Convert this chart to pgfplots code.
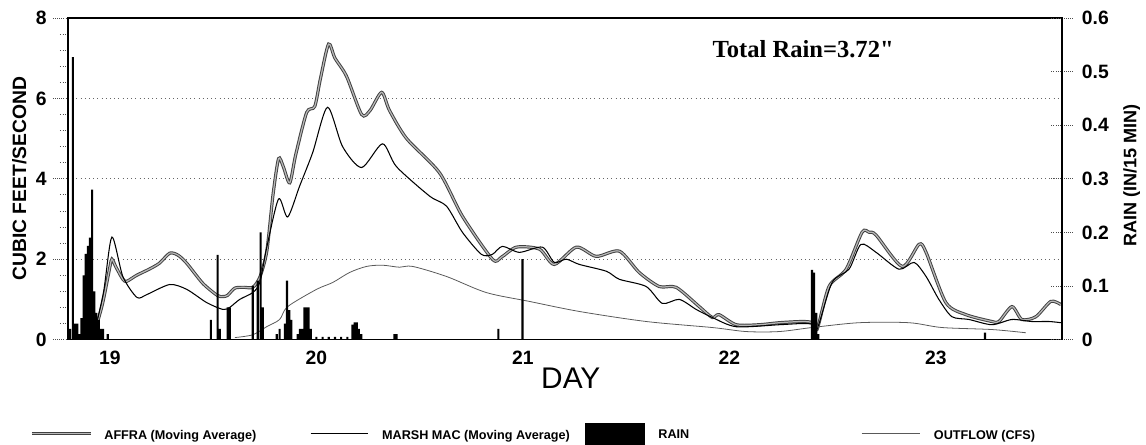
\documentclass[border=0pt]{standalone}
\usepackage{fontspec}
\setmainfont{Liberation Sans}
\newfontfamily\serifb{Liberation Serif}
\usepackage{pgfplots}
\pgfplotsset{compat=1.18}

\tikzset{
  dotticks/.style={black!70, densely dotted, line width=0.5pt},
}
\pgfplotsset{
  affra/.style={black!75, line width=1.8pt, smooth, tension=0.45,
    postaction={draw=gray!55, line width=0.7pt}},
  lineleg/.style={legend image code/.code={\draw[##1] (0cm,0cm) -- (#1,0cm);}},
}

\begin{document}
\begin{tikzpicture}
\begin{axis}[name=main, scale only axis, width=19.9cm, height=6.44cm,
  xmin=18.797, xmax=23.609, ymin=0, ymax=8,
  xtick={19,20,21,22,23}, xticklabels={19,20,21,22,23},
  xtick style={draw=none},
  xticklabel style={yshift=0.2cm},
  ytick={0,2,4,6,8}, yticklabels={0,2,4,6,8},
  minor y tick num=4,
  ytick pos=left, tick align=outside,
  major tick length=0.3cm, minor tick length=0.16cm,
  ytick style={dotticks}, every minor tick/.style={dotticks},
  ymajorgrids, major grid style={black!60, dotted, line width=0.6pt},
  axis line style={black, solid, line width=1pt},
  tick label style={font=\bfseries\fontsize{11}{13}\selectfont},
  ylabel={CUBIC FEET/SECOND},
  ylabel style={font=\bfseries\fontsize{11}{13}\selectfont,
    at={(axis description cs:-0.049,0.5)}, anchor=center},
  xlabel={DAY},
  xlabel style={font=\fontsize{17}{19}\selectfont,
    at={(axis description cs:0.506,-0.121)}, anchor=center},
  legend columns=4,
  legend style={at={(0,0)}, anchor=north west, xshift=-0.76cm, yshift=-1.66cm,
    draw=none, fill=none, inner sep=0pt, column sep=0pt, row sep=0pt,
    nodes={inner sep=0pt},
    font=\bfseries\fontsize{7.2}{8.5}\selectfont},
]
% AFFRA (moving average), cfs
\addplot[affra, lineleg=1.18cm]
coordinates {
(18.927,0.2) (18.965,0.9) (19.000,1.8) (19.010,2.0) (19.030,1.8) (19.063,1.5)
(19.082,1.45) (19.130,1.6) (19.190,1.75) (19.240,1.9) (19.290,2.15) (19.330,2.1)
(19.372,1.9) (19.450,1.4) (19.520,1.1) (19.547,1.07) (19.570,1.1) (19.605,1.28)
(19.650,1.3) (19.692,1.3) (19.726,1.55) (19.760,2.2) (19.790,3.6) (19.817,4.5)
(19.840,4.3) (19.871,3.9) (19.900,4.6) (19.953,5.65) (19.992,5.8) (20.020,6.5)
(20.059,7.35) (20.090,7.0) (20.146,6.55) (20.219,5.6) (20.260,5.7) (20.316,6.15)
(20.354,5.7) (20.437,5.0) (20.596,4.15) (20.707,3.07) (20.852,2.0) (20.896,2.05)
(20.969,2.3) (21.080,2.25) (21.152,1.87) (21.259,2.3) (21.355,2.07) (21.467,2.2)
(21.563,1.67) (21.660,1.32) (21.742,1.3) (21.854,0.82) (21.917,0.55) (21.950,0.62)
(22.033,0.37) (22.144,0.37) (22.241,0.42) (22.352,0.45) (22.400,0.42) (22.424,0.25)
(22.482,1.32) (22.565,1.75) (22.642,2.67) (22.676,2.67) (22.710,2.6) (22.836,1.82)
(22.918,2.37) (22.952,2.17) (23.048,0.92) (23.145,0.62) (23.271,0.45) (23.305,0.45)
(23.368,0.82) (23.416,0.5) (23.484,0.57) (23.556,0.95) (23.605,0.87)
};
\addlegendentry{\makebox[4.36cm][l]{\hspace{0.24cm}\raisebox{-0.09cm}{AFFRA (Moving Average)}}}
% MARSH MAC (moving average), cfs
\addplot[black, line width=0.6pt, smooth, tension=0.45, lineleg=1.14cm]
coordinates {
(18.927,0.2) (18.970,1.2) (19.010,2.55) (19.063,1.57) (19.131,1.05) (19.179,1.12)
(19.290,1.37) (19.372,1.25) (19.469,0.92) (19.547,0.75) (19.580,0.8) (19.629,1.0)
(19.692,1.17) (19.726,1.42) (19.760,2.3) (19.817,3.5) (19.861,3.05) (19.919,3.82)
(19.982,4.65) (20.054,5.78) (20.127,4.8) (20.219,4.28) (20.320,4.87) (20.388,4.3)
(20.548,3.57) (20.630,3.32) (20.707,2.67) (20.799,2.12) (20.852,2.12) (20.901,2.32)
(20.983,2.17) (21.094,2.3) (21.152,1.92) (21.210,2.0) (21.273,1.87) (21.404,1.7)
(21.467,1.5) (21.597,1.32) (21.675,0.9) (21.757,1.0) (21.839,0.75) (21.917,0.55)
(22.033,0.32) (22.241,0.37) (22.352,0.4) (22.400,0.38) (22.424,0.25) (22.497,1.42)
(22.579,1.75) (22.637,2.37) (22.710,2.17) (22.821,1.75) (22.894,1.92) (22.952,1.57)
(23.014,1.0) (23.077,0.57) (23.160,0.5) (23.271,0.37) (23.368,0.5) (23.464,0.45)
(23.547,0.45) (23.605,0.42)
};
\addlegendentry{\makebox[4.34cm][l]{\hspace{0.28cm}\raisebox{-0.09cm}{MARSH MAC (Moving Average)}}}
\addlegendimage{legend image code/.code={\fill[black] (0cm,-0.21cm) rectangle (1.18cm,0.21cm);}}
\addlegendentry{\makebox[4.34cm][l]{\hspace{0.28cm}\raisebox{-0.09cm}{RAIN}}}
% OUTFLOW, cfs
\addplot[black!65, line width=0.45pt, smooth, lineleg=1.16cm]
coordinates {
(19.605,0.05) (19.692,0.12) (19.759,0.32) (19.822,0.5) (19.861,0.82) (20.001,1.25)
(20.079,1.42) (20.161,1.67) (20.243,1.82) (20.320,1.85) (20.403,1.8) (20.466,1.82)
(20.630,1.57) (20.823,1.17) (21.031,0.95) (21.273,0.7) (21.597,0.45) (21.917,0.3)
(22.081,0.2) (22.241,0.2) (22.400,0.3) (22.628,0.42) (22.869,0.42) (23.029,0.3)
(23.271,0.25) (23.435,0.17)
};
\addlegendentry{\hspace{0.28cm}\raisebox{-0.09cm}{OUTFLOW (CFS)}}
\node[font=\serifb\bfseries\fontsize{14}{16}\selectfont, anchor=center]
  at (axis cs:22.357,7.23) {Total Rain=3.72"};
\end{axis}
\begin{axis}[scale only axis, width=19.9cm, height=6.44cm,
  xmin=18.797, xmax=23.609, ymin=0, ymax=0.6,
  axis x line=none, axis y line*=right,
  ytick={0,0.1,0.2,0.3,0.4,0.5,0.6},
  yticklabels={0,0.1,0.2,0.3,0.4,0.5,0.6},
  tick align=center, major tick length=0.44cm,
  ytick style={dotticks},
  axis line style={black, solid, line width=1pt},
  yticklabel style={font=\bfseries\fontsize{11}{13}\selectfont, xshift=0.06cm},
  ylabel={RAIN (IN/15 MIN)},
  ylabel style={font=\bfseries\fontsize{10.3}{12}\selectfont,
    at={(axis description cs:1.0704,0.51)}, anchor=center},
]
% rain, inches per 15 minutes
\addplot[ybar, bar width=0.0104, fill=black, draw=none] coordinates {
(18.807,0.02) (18.821,0.527) (18.831,0.03) (18.842,0.03) (18.852,0.01) (18.863,0.04)
(18.873,0.12) (18.883,0.16) (18.894,0.175) (18.904,0.19) (18.914,0.28) (18.925,0.09)
(18.935,0.05) (18.946,0.037) (18.956,0.02) (18.967,0.02) (18.990,0.01) (19.489,0.037)
(19.522,0.158) (19.532,0.02) (19.571,0.06) (19.581,0.06) (19.692,0.10) (19.716,0.11)
(19.730,0.20) (19.740,0.06) (19.808,0.01) (19.822,0.02) (19.848,0.03) (19.858,0.11)
(19.869,0.055) (19.879,0.037) (19.910,0.01) (19.921,0.02) (19.931,0.02) (19.942,0.06)
(19.952,0.06) (19.962,0.06) (19.973,0.02) (20.000,0.005) (20.030,0.005) (20.060,0.005)
(20.090,0.005) (20.120,0.005) (20.150,0.005) (20.175,0.028) (20.185,0.032) (20.196,0.032)
(20.206,0.02) (20.217,0.01) (20.378,0.01) (20.388,0.01) (20.881,0.02) (20.998,0.15)
(22.400,0.13) (22.410,0.125) (22.420,0.05) (22.430,0.01) (23.237,0.013)
};
\end{axis}
\path (main.south west) ++(-1.36cm,-2.08cm) rectangle ++(22.92cm,8.88cm);
\end{tikzpicture}
\end{document}
